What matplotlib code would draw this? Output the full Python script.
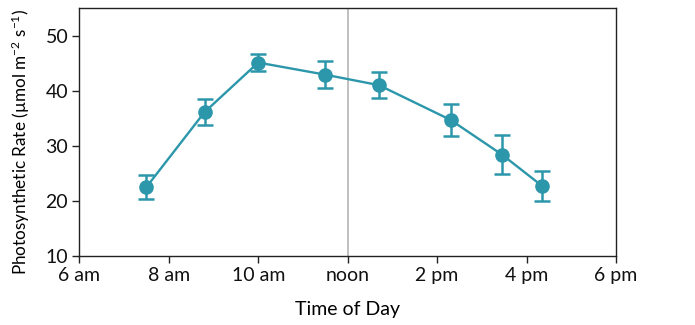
import matplotlib
matplotlib.use("Agg")
import matplotlib.pyplot as plt

plt.rcParams['font.family'] = ['Lato', 'DejaVu Sans']
plt.rcParams['mathtext.fontset'] = 'custom'
plt.rcParams['mathtext.rm'] = 'Lato'
plt.rcParams['mathtext.default'] = 'regular'

# Measurement times in hours since midnight
hours = [7.5, 8.8, 10.0, 11.5, 12.7, 14.3, 15.45, 16.35]
rate = [22.5, 36.1, 45.1, 42.9, 41.0, 34.7, 28.4, 22.7]
err = [2.2, 2.3, 1.6, 2.5, 2.4, 2.9, 3.6, 2.8]

tick_hours = [6, 8, 10, 12, 14, 16, 18]
tick_labels = ['6 am', '8 am', '10 am', 'noon', '2 pm', '4 pm', '6 pm']
y_ticks = [10, 20, 30, 40, 50]

teal = '#2c97ab'

fig = plt.figure(figsize=(6.95, 3.25), dpi=100)
ax = fig.add_axes([79.3 / 695, 1 - 256 / 325, (616 - 79.3) / 695, (256 - 8) / 325])

ax.axvline(12, color='#b5b5b5', lw=1.2, zorder=1)
ax.errorbar(hours, rate, yerr=err, color=teal, marker='o', markersize=9.5,
            lw=1.7, elinewidth=1.8, capsize=6, capthick=1.8, zorder=3)

ax.set_xlim(6, 18)
ax.set_ylim(10, 55)
ax.set_xticks(tick_hours)
ax.set_xticklabels(tick_labels)
ax.set_yticks(y_ticks)

for s in ax.spines.values():
    s.set_linewidth(1.0)
    s.set_color('#222222')
ax.tick_params(axis='both', direction='out', length=5, width=1.0,
               labelsize=14, colors='#222222', labelcolor='#111111', pad=3)

ax.set_xlabel('Time of Day', fontsize=14, labelpad=12)
ax.set_ylabel('Photosynthetic Rate (µmol m$^{-2}$ s$^{-1}$)', fontsize=12.3)
ax.yaxis.set_label_coords(-0.089, 0.46)

fig.savefig('out.png', dpi=100)
